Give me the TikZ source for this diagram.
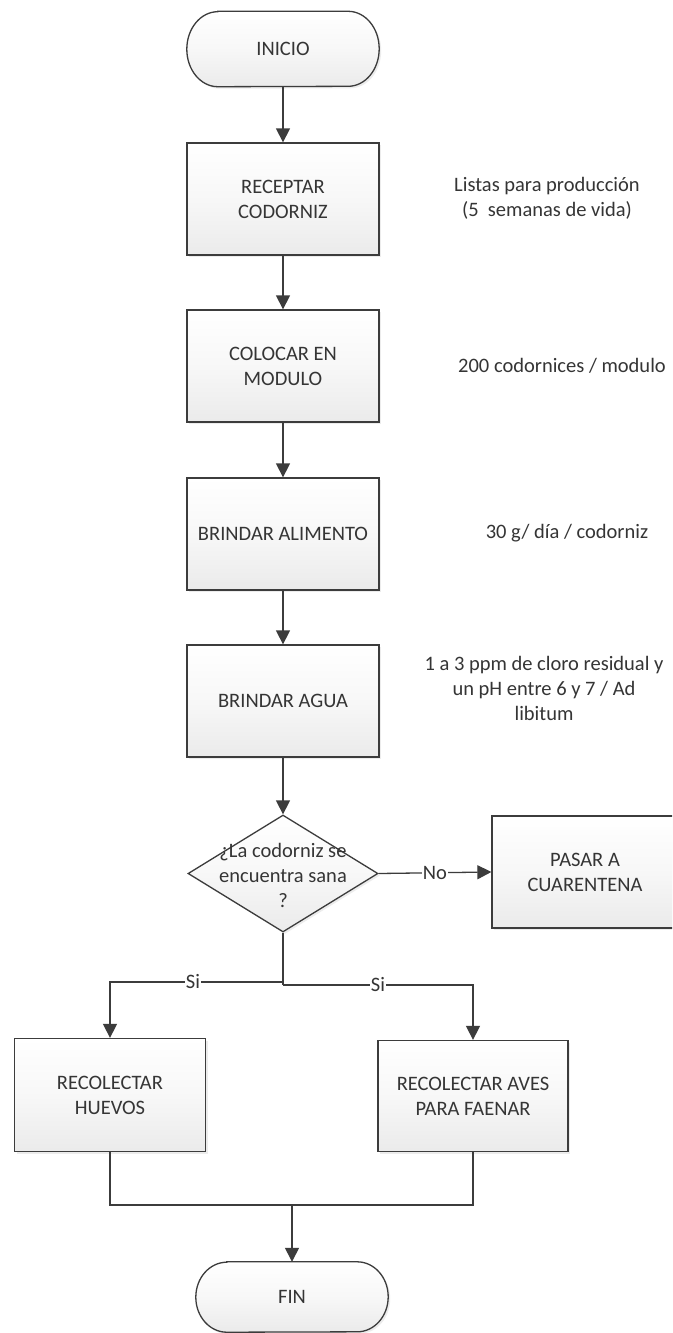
\documentclass[tikz,border=0pt]{standalone}
\usepackage{fontspec}
\setmainfont{Carlito}
\usetikzlibrary{arrows.meta,shapes.geometric,shadows,backgrounds}
\definecolor{linec}{HTML}{3C3C3C}
\definecolor{textc}{HTML}{353535}
\newcommand{\termshape}[2]{%
  \path[termline] ([xshift=31pt]#1.north west) -- ([xshift=-31pt]#1.north east)
    arc[start angle=90,end angle=-90,x radius=31pt,y radius=#2]
    -- ([xshift=31pt]#1.south west)
    arc[start angle=270,end angle=90,x radius=31pt,y radius=#2] -- cycle;}
\begin{document}
\begin{tikzpicture}[x=1pt,y=1pt,
  font=\fontsize{20.5}{25}\selectfont, text=textc,
  shade/.style={top color=white, bottom color=black!8, middle color=white!97!black},
  shad/.style={drop shadow={opacity=0.15,shadow xshift=2pt,shadow yshift=-2pt}},
  box/.style={draw=linec, line width=1.3pt, shade, shad,
    minimum width=192pt, minimum height=112pt, align=center, inner sep=0pt},
  dec/.style={diamond, draw=linec, line width=1.3pt, shade, shad,
    minimum width=190pt, minimum height=117pt, inner sep=0pt},
  term/.style={minimum width=192pt, inner sep=0pt},
  termline/.style={draw=linec, line width=1.3pt, shade, shad},
  arr/.style={draw=linec, line width=1.3pt, -{Triangle[width=14pt,length=14pt]}},
  ln/.style={draw=linec, line width=1.3pt},
  lbl/.style={fill=white, inner sep=1pt},
  side/.style={align=center, inner sep=0pt}]
\useasboundingbox (0,0) rectangle (672,-1333);
\clip (0,0) rectangle (672,-1333);

% terminals and boxes
\node[term, minimum height=75pt] (inicio) at (283,-49) {INICIO};
\node[box] (receptar) at (283,-199) {RECEPTAR\\CODORNIZ};
\node[box] (colocar) at (283,-366) {COLOCAR EN\\MODULO};
\node[box] (alimento) at (283,-534) {BRINDAR ALIMENTO};
\node[box] (agua) at (283,-701) {BRINDAR AGUA};
\node[dec] (decision) at (283,-873.5) {};
\node[align=center, inner sep=0pt] (dectext) at (283,-875) {¿La codorniz se\\encuentra sana\\?};
\node[box, minimum width=240pt] (cuar) at (612,-872) {\hspace*{-54pt}PASAR A\\\hspace*{-54pt}CUARENTENA};
\node[box, minimum width=191pt, minimum height=113pt] (huevos) at (110,-1095) {RECOLECTAR\\HUEVOS};
\node[box, minimum width=190pt, minimum height=111pt] (aves) at (473,-1096) {RECOLECTAR AVES\\PARA FAENAR};
\node[term, minimum height=70pt] (fin) at (292,-1297) {FIN};

% side notes
\node[side] (n1) at (547,-198) {Listas para producción\\(5\ \ semanas de vida)};
\node[side] (n2) at (562,-366) {200 codornices / modulo};
\node[side] (n3) at (567,-533) {30 g/ día / codorniz};
\node[side] (n4) at (544,-688) {1 a 3 ppm de cloro residual y\\un pH entre 6 y 7 / Ad\\libitum};

\begin{scope}[on background layer]
  \fill[white] (0,0) rectangle (672,-1333);
  \termshape{inicio}{37.5pt}
  \termshape{fin}{35pt}
\end{scope}

% connectors
\draw[arr] (inicio.south) -- (receptar.north);
\draw[arr] (receptar.south) -- (colocar.north);
\draw[arr] (colocar.south) -- (alimento.north);
\draw[arr] (alimento.south) -- (agua.north);
\draw[arr] (agua.south) -- (decision.north);
\draw[arr] (decision.east) -- node[lbl] {No} (cuar.west);

\coordinate (jl) at (283,-982);
\coordinate (jr) at (283,-985);
\coordinate (m) at (292,-1205);
\draw[ln] (decision.south) -- (jr);
\draw[arr] (jl) -- node[lbl, pos=0.52] {Si} (jl -| huevos.north) -- (huevos.north);
\draw[arr] (jr) -- node[lbl, pos=0.5] {Si} (jr -| aves.north) -- (aves.north);
\draw[ln] (huevos.south) -- (huevos.south |- m) -- (aves.south |- m) -- (aves.south);
\draw[arr] (m) -- (fin.north);
\end{tikzpicture}
\end{document}
